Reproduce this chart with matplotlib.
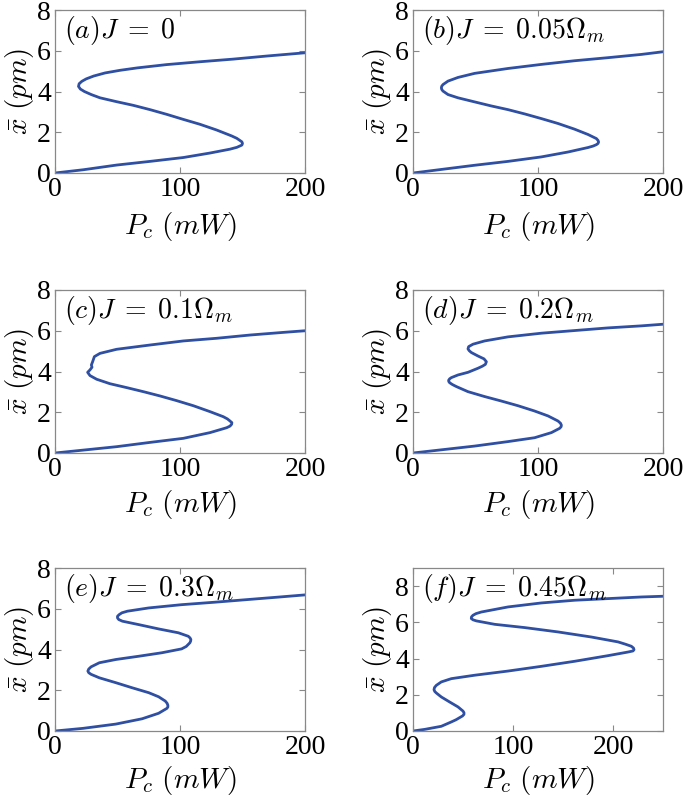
import matplotlib
matplotlib.use("Agg")
import matplotlib.pyplot as plt

plt.rcParams['mathtext.fontset'] = 'cm'
plt.rcParams['font.family'] = ['Liberation Serif', 'DejaVu Serif']

# Curves: (P_c in mW, x-bar in pm)
Pa = [0, 22.7, 49.3, 76, 102.7, 124, 140, 145.5, 149.5, 150, 149.5, 145.5, 141.3, 129.3, 116, 102.7, 89.3, 76, 62.7, 49.3, 36, 29, 23.5, 20.3, 18.8, 19.3, 21.5, 25, 31, 40, 52, 66, 89.3, 116, 142.7, 169.3, 200]
Xa = [0, 0.16, 0.39, 0.57, 0.76, 0.98, 1.17, 1.26, 1.37, 1.45, 1.53, 1.70, 1.82, 2.11, 2.39, 2.63, 2.88, 3.11, 3.32, 3.50, 3.69, 3.85, 4.0, 4.12, 4.25, 4.38, 4.50, 4.62, 4.76, 4.91, 5.04, 5.16, 5.32, 5.46, 5.59, 5.74, 5.90]

Pb = [0, 49.3, 76, 102.7, 124, 140, 144, 146.7, 148, 148.5, 148, 146.7, 144, 140, 129.3, 116, 102.7, 89.3, 76, 62.7, 49.3, 36, 28, 24, 23, 22.7, 23, 24, 28, 36, 49.3, 76, 102.7, 129.3, 156, 182.7, 200]
Xb = [0, 0.38, 0.57, 0.79, 1.03, 1.25, 1.32, 1.39, 1.45, 1.52, 1.60, 1.69, 1.77, 1.89, 2.15, 2.43, 2.67, 2.90, 3.11, 3.29, 3.49, 3.69, 3.85, 4.02, 4.10, 4.18, 4.26, 4.34, 4.51, 4.69, 4.89, 5.13, 5.33, 5.51, 5.66, 5.82, 5.95]

Pc_ = [0, 49.3, 76, 102.7, 124, 137.3, 140, 141.3, 141.5, 140, 138, 134.7, 124, 110.7, 97.3, 84, 70.7, 57.3, 44, 33.3, 28, 26.1, 28, 29.6, 29.1, 30.1, 31.5, 36, 49.3, 76, 102.7, 129.3, 156, 182.7, 200]
Xc = [0, 0.31, 0.52, 0.72, 1.0, 1.24, 1.32, 1.41, 1.49, 1.57, 1.67, 1.78, 2.03, 2.32, 2.57, 2.80, 3.01, 3.21, 3.40, 3.62, 3.80, 3.96, 4.08, 4.21, 4.32, 4.48, 4.73, 4.89, 5.09, 5.30, 5.50, 5.63, 5.79, 5.92, 6.0]

Pd = [0, 49.3, 76, 97.3, 110.7, 117.3, 118.5, 118.7, 118, 116, 108, 97.3, 84, 70.7, 57.3, 44, 34.7, 31.5, 29.3, 28.6, 28.5, 29.3, 30.7, 36, 44, 52, 55.5, 57.9, 58.7, 56.8, 52, 46.7, 45, 44, 44.5, 48, 57.3, 76, 102.7, 129.3, 156, 182.7, 200]
Xd = [0, 0.34, 0.56, 0.75, 1.0, 1.21, 1.29, 1.37, 1.46, 1.57, 1.82, 2.06, 2.32, 2.55, 2.77, 3.01, 3.26, 3.36, 3.45, 3.51, 3.57, 3.64, 3.70, 3.83, 3.96, 4.16, 4.26, 4.35, 4.48, 4.62, 4.76, 4.93, 5.02, 5.11, 5.22, 5.34, 5.50, 5.70, 5.88, 6.01, 6.14, 6.24, 6.32]

Pe = [0, 22.4, 48.7, 69.7, 82.9, 89.5, 90.3, 90.3, 89.7, 88.2, 82.9, 75, 61.8, 48.7, 35.5, 28.9, 27, 26.3, 27, 28.9, 35.5, 48.7, 67.1, 85.5, 101.3, 105, 107.9, 108.5, 108.7, 108, 106.6, 98.7, 82.9, 67.1, 53.9, 51, 50, 50, 51.3, 53.5, 57.9, 75, 101.3, 127.6, 153.9, 180.3, 200]
Xe = [0, 0.13, 0.34, 0.60, 0.87, 1.11, 1.18, 1.26, 1.36, 1.47, 1.68, 1.88, 2.12, 2.37, 2.61, 2.78, 2.86, 2.94, 3.04, 3.15, 3.35, 3.51, 3.67, 3.84, 4.03, 4.15, 4.33, 4.41, 4.49, 4.57, 4.65, 4.82, 5.01, 5.22, 5.39, 5.47, 5.55, 5.63, 5.71, 5.80, 5.88, 6.04, 6.20, 6.32, 6.45, 6.58, 6.68]

Pf = [0, 11.7, 28.3, 38.3, 43, 46.7, 49.5, 51, 51, 50, 45, 36.7, 28.3, 23.3, 21.8, 21, 21.5, 23.3, 28.3, 38.3, 61.7, 95, 128.3, 161.7, 195, 215, 220, 221, 220.5, 218.3, 212, 205, 178.3, 145, 111.7, 81.7, 63.3, 60, 58.3, 58.5, 60, 63, 68.3, 95, 128.3, 161.7, 195, 228.3, 250]
Xf = [0, 0.09, 0.26, 0.50, 0.62, 0.74, 0.83, 0.92, 1.01, 1.10, 1.33, 1.60, 1.88, 2.10, 2.18, 2.28, 2.40, 2.52, 2.71, 2.89, 3.08, 3.31, 3.57, 3.85, 4.16, 4.36, 4.42, 4.49, 4.58, 4.68, 4.80, 4.92, 5.19, 5.47, 5.71, 5.89, 6.08, 6.14, 6.21, 6.30, 6.39, 6.48, 6.57, 6.85, 7.07, 7.22, 7.31, 7.40, 7.44]

labels = [r'$(a)J\;=\;0$', r'$(b)J\;=\;0.05\Omega_m$', r'$(c)J\;=\;0.1\Omega_m$',
          r'$(d)J\;=\;0.2\Omega_m$', r'$(e)J\;=\;0.3\Omega_m$', r'$(f)J\;=\;0.45\Omega_m$']
curves = [(Pa, Xa), (Pb, Xb), (Pc_, Xc), (Pd, Xd), (Pe, Xe), (Pf, Xf)]
xlims = [200, 200, 200, 200, 200, 250]
ylims = [8, 8, 8, 8, 8, 9]
xticks = [0, 100, 200]
yticks = [0, 2, 4, 6, 8]

W, H = 685, 797
fig = plt.figure(figsize=(W / 100, H / 100), dpi=100)
lefts = [55, 413]
tops = [10, 290, 568]
aw, ah = 250, 163
xlab_y = [-0.225, -0.215, -0.2]

for i, ((P, X), lab) in enumerate(zip(curves, labels)):
    r, c = divmod(i, 2)
    l = lefts[c]; t = tops[r]
    ax = fig.add_axes([l / W, 1 - (t + ah) / H, aw / W, ah / H])
    ax.plot(P, X, color='#2F4FA2', lw=2.0, solid_joinstyle='round', solid_capstyle='round')
    ax.set_xlim(0, xlims[i])
    ax.set_ylim(0, ylims[i])
    ax.set_xticks(xticks)
    ax.set_yticks(yticks)
    ax.tick_params(direction='in', length=4, width=0.8, top=True, right=True,
                   labelsize=20, color='#888888', pad=3)
    for s in ax.spines.values():
        s.set_color('#888888')
        s.set_linewidth(0.9)
    ax.set_xlabel(r'$P_c\ (mW)$', fontsize=21)
    ax.set_ylabel(r'$\bar{x}\ (pm)$', fontsize=21)
    ax.xaxis.set_label_coords(0.5, xlab_y[r])
    ax.yaxis.set_label_coords(-0.075, 0.5)
    ax.text(0.035, 0.975, lab, transform=ax.transAxes, ha='left', va='top', fontsize=20)

fig.savefig('out.png', dpi=100)
